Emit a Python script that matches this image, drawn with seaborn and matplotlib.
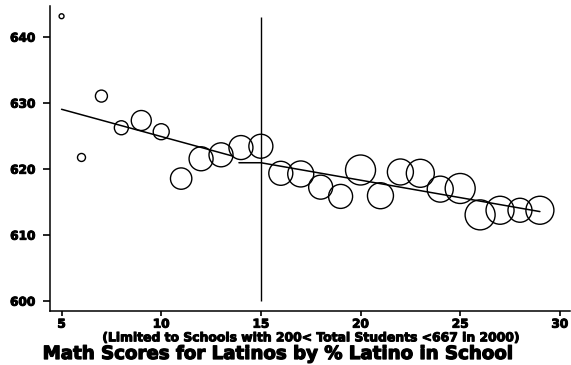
import matplotlib
matplotlib.use("Agg")
import matplotlib.pyplot as plt
import matplotlib.patheffects as pe
import numpy as np
import pandas as pd
import seaborn as sns

# Percent Latino in school (binned) and mean Latino math score per bin
pct_latino = [5, 6, 7, 8, 9, 10, 11, 12, 13, 14, 15, 16, 17, 18, 19,
              20, 21, 22, 23, 24, 25, 26, 27, 28, 29]
math_score = [643.1, 621.7, 631.0, 626.2, 627.3, 625.6, 618.5, 621.5, 622.1,
              623.2, 623.4, 619.3, 619.2, 617.2, 615.8, 619.8, 615.9, 619.5,
              619.3, 616.9, 617.0, 613.0, 613.7, 613.7, 613.7]
# Number of schools in each bin (bubble weight)
n_schools = [6, 16, 36, 49, 100, 64, 114, 144, 144, 144, 144, 144, 169, 144,
             144, 225, 169, 169, 196, 169, 225, 225, 196, 144, 196]

# Fitted lines below and above the 15% cut point
fit_low_x = [5, 13.6]
fit_low_y = [629.0, 621.9]
fit_high_x = [13.9, 15, 29]
fit_high_y = [620.9, 620.9, 613.5]

x_ticks = [5, 10, 15, 20, 25, 30]
y_ticks = [600, 610, 620, 630, 640]

df = pd.DataFrame({"pct": pct_latino, "score": math_score, "n": n_schools})

sns.set_theme(style="white")
plt.rcParams["font.family"] = ["DejaVu Sans"]

# heavy lettering: bold face with a thin outline
heavy = [pe.withStroke(linewidth=0.7, foreground="black")]

fig = plt.figure(figsize=(5.71, 3.65), dpi=100)
W, H = 571, 365
ax = fig.add_axes([50 / W, (H - 310.7) / H, 520 / W, (310.7 - 6) / H])

wmax = max(n_schools)
px_to_pt = 72 / 100
s_max = (2 * np.sqrt(wmax) * px_to_pt) ** 2

sns.scatterplot(data=df, x="pct", y="score", size="n", sizes=(0, s_max),
                size_norm=(0, wmax), facecolors="none", edgecolor="black",
                linewidth=1.0, legend=False, ax=ax, zorder=3)

ax.plot(fit_low_x, fit_low_y, color="black", lw=1.1)
ax.plot(fit_high_x, fit_high_y, color="black", lw=1.1)
ax.vlines(15, 600, 643, color="black", lw=1.0)

ax.set_xlim(4.42, 30.51)
ax.set_ylim(598.48, 644.65)
ax.set_xticks(x_ticks)
ax.set_yticks(y_ticks)
ax.set_xticklabels([str(t) for t in x_ticks], fontsize=8.7, fontweight="bold")
ax.set_yticklabels([str(t) for t in y_ticks], fontsize=8.7, fontweight="bold")
for lab in ax.get_xticklabels() + ax.get_yticklabels():
    lab.set_path_effects(heavy)
ax.tick_params(axis="y", direction="out", length=5, width=1.2, pad=5.5,
               left=True, colors="black")
ax.tick_params(axis="x", direction="out", length=3.5, width=1.2, pad=1.5,
               bottom=True, colors="black")

for side in ["top", "right"]:
    ax.spines[side].set_visible(False)
for side in ["left", "bottom"]:
    ax.spines[side].set_color("black")
    ax.spines[side].set_linewidth(1.1)

ax.set_xlabel("(Limited to Schools with 200< Total Students <667 in 2000)",
              fontsize=8.9, fontweight="bold", labelpad=0.5, color="black",
              path_effects=heavy)
ax.set_ylabel("")

fig.text(276 / W, 1 - 354 / H, "Math Scores for Latinos by % Latino in School",
         ha="center", va="center", fontsize=13.1, fontweight="bold",
         color="black", path_effects=[pe.withStroke(linewidth=0.9,
                                                    foreground="black")])

fig.savefig("out.png", dpi=100)
